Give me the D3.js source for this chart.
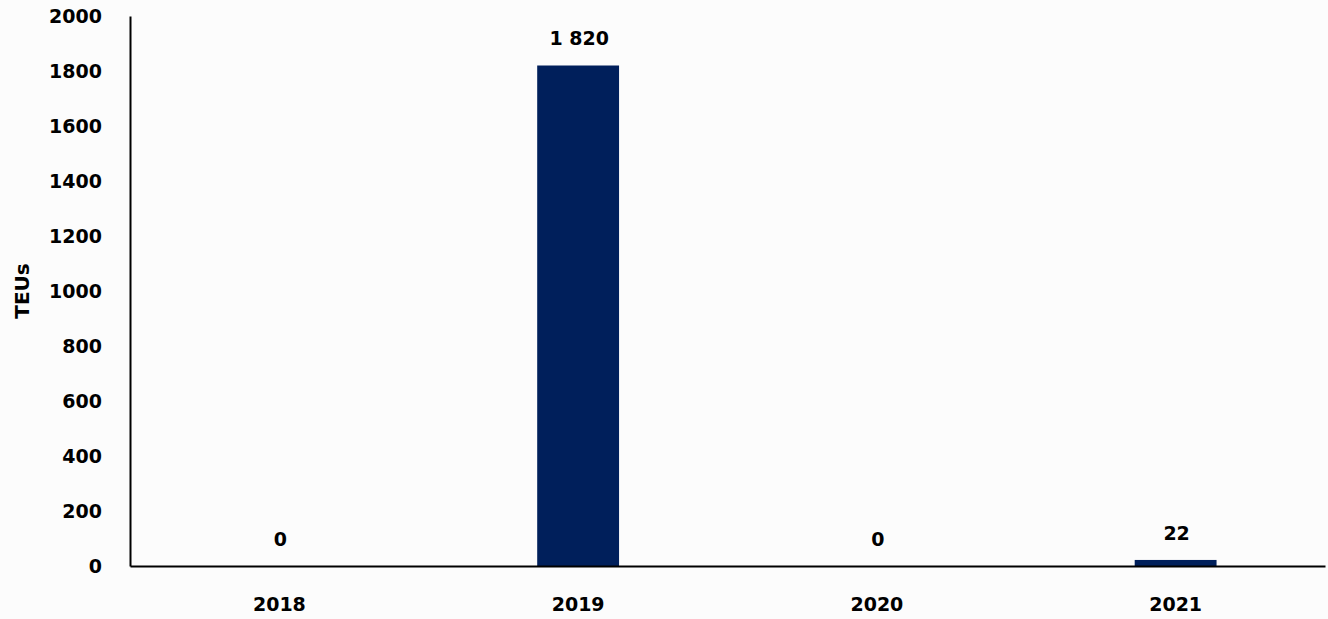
<!DOCTYPE html>
<html><head><meta charset="utf-8">
<script src="https://cdn.jsdelivr.net/npm/d3@7"></script>
<style>
body{margin:0;background:#fcfcfc;}
text{font-family:"DejaVu Sans",sans-serif;font-weight:bold;fill:#000;}
</style></head>
<body><svg id="c" width="1328" height="619"></svg>
<script>
const categories = ["2018","2019","2020","2021"];
const values = [0,1820,0,22];
const valueLabels = ["0","1 820","0","22"];
const yTicks = [0,200,400,600,800,1000,1200,1400,1600,1800,2000];
const yTitle = "TEUs";

const svg = d3.select("#c");
const m = {l:130, r:3, t:16, b:53};
const W = 1328, H = 619;
const FS = 19;
const x = d3.scaleBand().domain(categories).range([m.l, W-m.r]).paddingInner(0.726).paddingOuter(0.363);
const y = d3.scaleLinear().domain([0,2000]).range([H-m.b, m.t]);

svg.selectAll("rect.bar").data(values).enter().append("rect")
  .attr("x",(d,i)=>x(categories[i])).attr("width",x.bandwidth())
  .attr("y",d=>y(d)).attr("height",d=>y(0)-y(d)).attr("fill","#001f5b");

const ya = svg.append("g").attr("transform",`translate(${m.l},0)`)
  .call(d3.axisLeft(y).tickValues(yTicks).tickSize(0).tickPadding(28).tickFormat(d3.format("d")));
ya.select(".domain").attr("stroke","#000").attr("stroke-width",2);
ya.selectAll("text").attr("font-size",FS).attr("dy","0.36em")
  .style("font-family","'DejaVu Sans',sans-serif").style("font-weight","bold");

const xa = svg.append("g").attr("transform",`translate(0,${y(0)})`)
  .call(d3.axisBottom(x).tickSize(0));
xa.select(".domain").attr("stroke","#000").attr("stroke-width",2);
xa.selectAll("text").attr("font-size",FS).attr("y",38).attr("dy","0.36em")
  .style("font-family","'DejaVu Sans',sans-serif").style("font-weight","bold");

svg.selectAll("text.vl").data(values).enter().append("text")
  .attr("x",(d,i)=>x(categories[i])+x.bandwidth()/2+1).attr("y",d=>y(d)-27).attr("dy","0.36em")
  .attr("text-anchor","middle").attr("font-size",FS).text((d,i)=>valueLabels[i]);

svg.append("text").attr("transform","translate(22,291) rotate(-90)").attr("dy","0.36em")
  .attr("text-anchor","middle").attr("font-size",20).text(yTitle);
</script></body></html>
